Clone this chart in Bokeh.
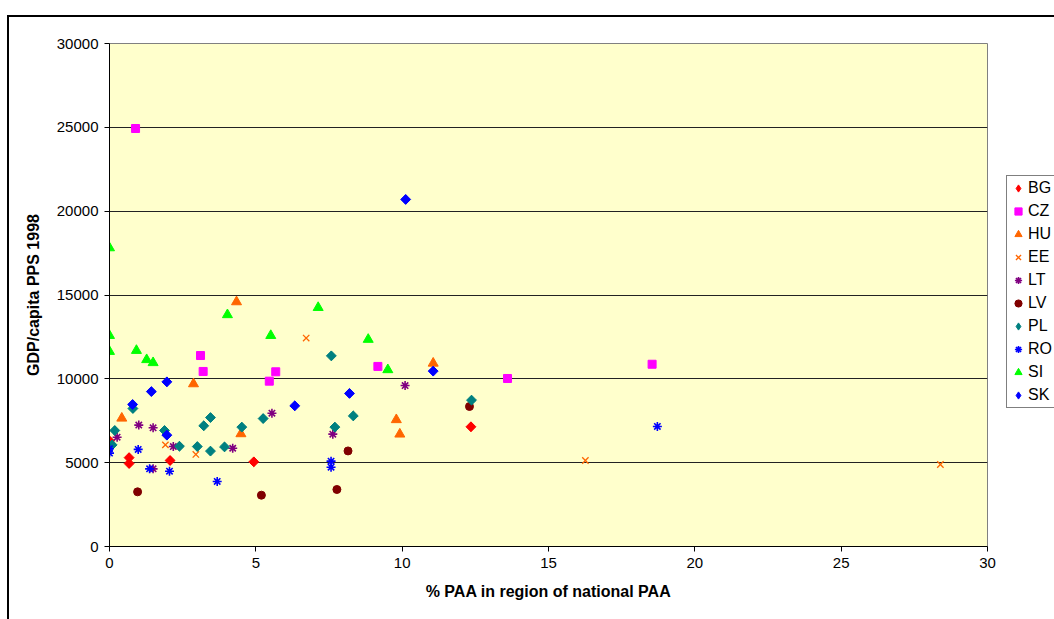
import math
from bokeh.plotting import figure
from bokeh.models import FixedTicker, Legend, LegendItem
from bokeh.embed import file_html
from bokeh.resources import INLINE

# ---- data ----
countries = ["BG", "CZ", "HU", "EE", "LT", "LV", "PL", "RO", "SI", "SK"]

BG_x = [0.0, 0.67, 0.67, 2.07, 4.93, 12.35]
BG_y = [6300, 5300, 4950, 5130, 5050, 7140]

CZ_x = [0.89, 3.11, 3.2, 5.46, 5.68, 9.17, 13.6, 18.54]
CZ_y = [24930, 11390, 10440, 9860, 10420, 10740, 10020, 10870]

HU_x = [0.42, 2.87, 4.34, 4.49, 9.8, 9.92, 11.06]
HU_y = [7650, 9700, 14590, 6720, 7560, 6700, 10930]

EE_x = [1.91, 2.95, 6.72, 16.26, 28.39]
EE_y = [6060, 5490, 12430, 5130, 4890]

LT_x = [0.26, 1.0, 1.49, 1.49, 2.18, 4.21, 5.55, 7.63, 10.1]
LT_y = [6520, 7240, 7080, 4630, 5960, 5860, 7950, 6700, 9600]

LV_x = [0.96, 5.19, 7.77, 8.15, 12.3]
LV_y = [3260, 3060, 3400, 5700, 8350]

PL_x = [0.09, 0.18, 0.8, 1.88, 2.39, 3.0, 3.22, 3.45, 3.45, 3.93, 4.52, 5.25, 7.58, 7.7, 8.33, 12.37]
PL_y = [6060, 6920, 8230, 6920, 5980, 5960, 7200, 7690, 5690, 5940, 7120, 7630, 11370, 7120, 7790, 8730]

RO_x = [0.0, 0.0, 0.98, 1.37, 2.05, 3.68, 7.57, 7.57, 18.72]
RO_y = [5830, 5570, 5790, 4630, 4490, 3880, 5090, 4730, 7160]

SI_x = [0.0, 0.0, 0.0, 0.92, 1.27, 1.49, 4.03, 5.51, 7.13, 8.84, 9.51]
SI_y = [17810, 12580, 11630, 11690, 11140, 10960, 13820, 12580, 14250, 12350, 10540]

SK_x = [0.79, 1.43, 1.96, 1.96, 6.33, 8.2, 10.12, 11.06]
SK_y = [8470, 9240, 9820, 6640, 8390, 9130, 20700, 10460]

x_ticks = [0, 5, 10, 15, 20, 25, 30]
y_ticks = [0, 5000, 10000, 15000, 20000, 25000, 30000]

series = {
    "BG": (BG_x, BG_y), "CZ": (CZ_x, CZ_y), "HU": (HU_x, HU_y), "EE": (EE_x, EE_y),
    "LT": (LT_x, LT_y), "LV": (LV_x, LV_y), "PL": (PL_x, PL_y), "RO": (RO_x, RO_y),
    "SI": (SI_x, SI_y), "SK": (SK_x, SK_y),
}

# ---- styles ----
styles = {
    "BG": dict(marker="square", angle=math.pi / 4, size=7, fill_color="#FF0000", line_color="#FF0000"),
    "CZ": dict(marker="square", size=8, fill_color="#FF00FF", line_color="#FF00FF"),
    "HU": dict(marker="triangle", size=10, fill_color="#FF6600", line_color="#FF6600"),
    "EE": dict(marker="x", size=9, line_color="#FF6600", line_width=1.3),
    "LT": dict(marker="asterisk", size=9, line_color="#800080", line_width=1.6),
    "LV": dict(marker="circle", size=8, fill_color="#800000", line_color="#800000"),
    "PL": dict(marker="square", angle=math.pi / 4, size=7, fill_color="#008080", line_color="#008080"),
    "RO": dict(marker="asterisk", size=9, line_color="#0000FF", line_width=1.6),
    "SI": dict(marker="triangle", size=10, fill_color="#00FF00", line_color="#00FF00"),
    "SK": dict(marker="square", angle=math.pi / 4, size=7, fill_color="#0000FF", line_color="#0000FF"),
}
diamond_series = {"BG", "PL", "SK"}

FONT = "Liberation Sans"

p = figure(
    frame_width=878, frame_height=503,
    min_border_left=109, min_border_right=67, min_border_top=43, min_border_bottom=73,
    x_range=(0, 30), y_range=(0, 30000),
    output_backend="svg", toolbar_location=None,
    background_fill_color="#FFFFCC", border_fill_color="white", border_fill_alpha=0,
)

# outer chart-area border (left and top edges visible in the window)
p.styles = {
    "background": (
        "linear-gradient(#000, #000) 7px 15px / 2px 100% no-repeat, "
        "linear-gradient(#000, #000) 7px 15px / 100% 2px no-repeat, #fff"
    )
}

p.outline_line_color = "#808080"
p.outline_line_width = 1

p.xgrid.visible = False
p.ygrid.ticker = FixedTicker(ticks=[5000, 10000, 15000, 20000, 25000])
p.ygrid.grid_line_color = "#222222"
p.ygrid.grid_line_width = 1

p.xaxis.ticker = FixedTicker(ticks=x_ticks)
p.yaxis.ticker = FixedTicker(ticks=y_ticks)

for ax in (p.xaxis[0], p.yaxis[0]):
    ax.axis_line_color = "black"
    ax.major_tick_line_color = "black"
    ax.major_tick_in = 0
    ax.major_tick_out = 5
    ax.minor_tick_line_color = None
    ax.major_label_text_font = FONT
    ax.major_label_text_font_size = "15px"
    ax.major_label_text_color = "black"
    ax.axis_label_text_font = FONT
    ax.axis_label_text_font_size = "16px"
    ax.axis_label_text_font_style = "bold"
    ax.axis_label_text_color = "black"

p.xaxis.axis_label = "% PAA in region of national PAA"
p.yaxis.axis_label = "GDP/capita PPS 1998"
p.xaxis.major_label_standoff = 6
p.yaxis.major_label_standoff = 6
p.xaxis.axis_label_standoff = 12
p.yaxis.axis_label_standoff = 12

items = []
for c in countries:
    xs, ys = series[c]
    st = styles[c]
    if c in diamond_series:
        # diamond glyph (hidden underneath the rotated squares) used for the legend swatch
        legend_r = p.scatter(xs, ys, marker="diamond", size=9,
                             fill_color=st["fill_color"], line_color=st["line_color"])
        p.scatter(xs, ys, **st)
    else:
        legend_r = p.scatter(xs, ys, **st)
    items.append(LegendItem(label=c, renderers=[legend_r]))

legend = Legend(
    items=items, location=(19, 138), orientation="vertical",
    border_line_color="black", border_line_width=1,
    background_fill_color="white", background_fill_alpha=1,
    label_text_font=FONT, label_text_font_size="16px", label_text_color="black",
    glyph_width=18, glyph_height=20, label_height=20, spacing=3,
    padding=2, margin=0, label_standoff=1,
)
p.add_layout(legend, "right")

open("out.html", "w").write(file_html(p, INLINE))
